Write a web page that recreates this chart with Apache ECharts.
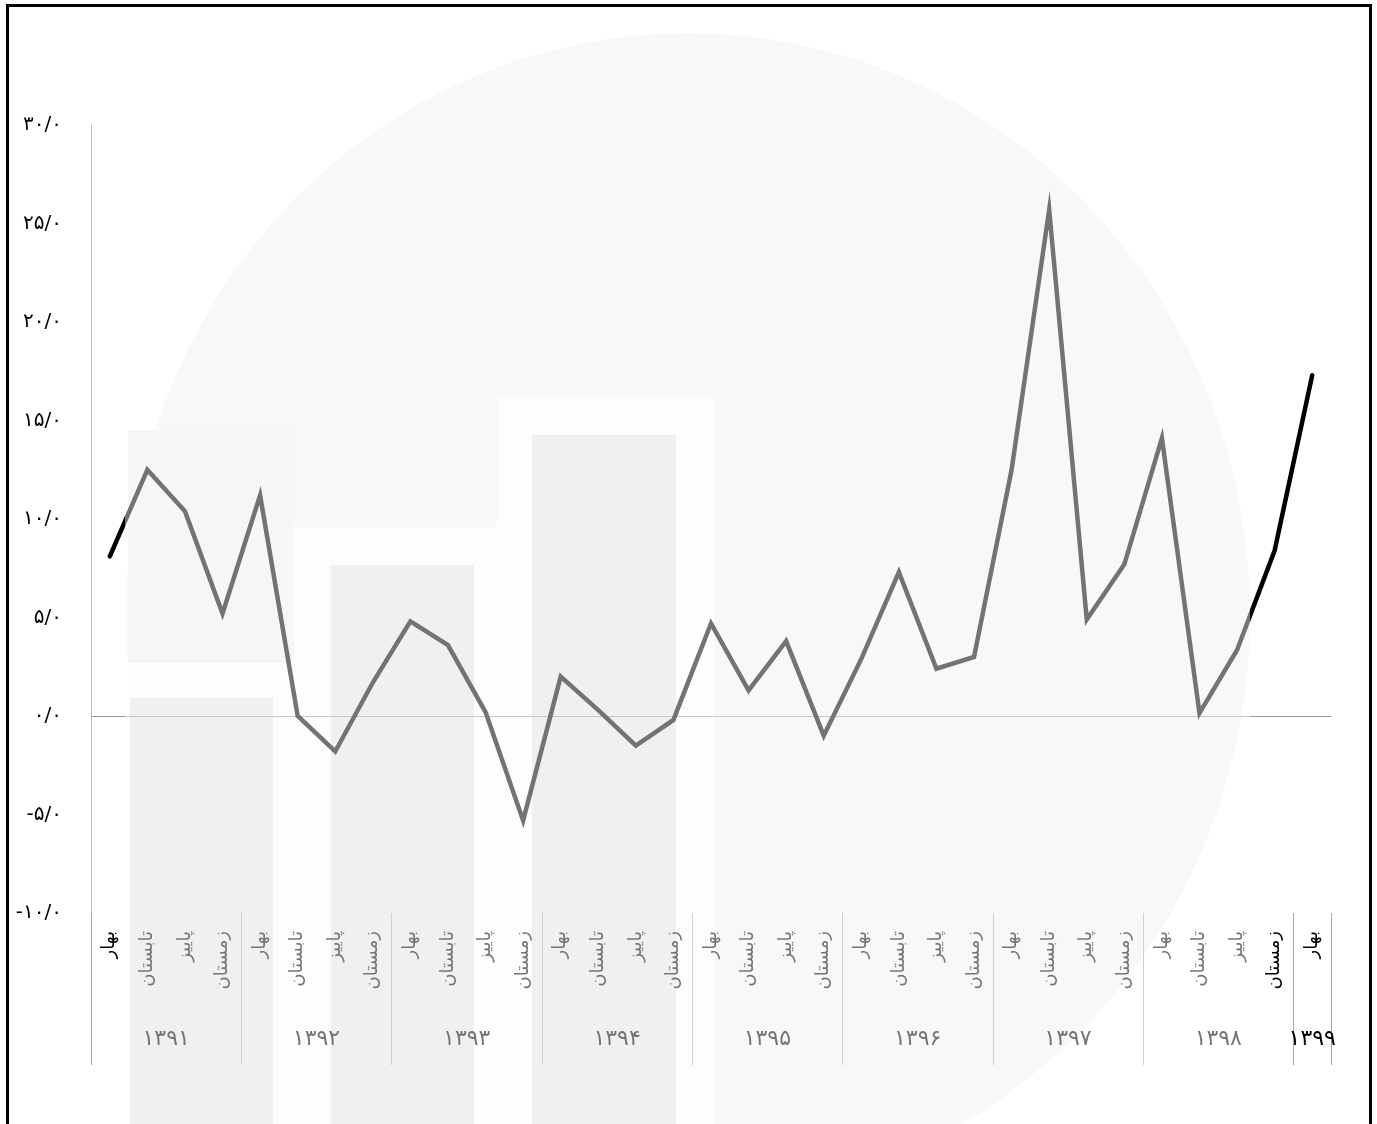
<!DOCTYPE html>
<html>
<head>
<meta charset="utf-8">
<script src="https://cdn.jsdelivr.net/npm/echarts@6/dist/echarts.min.js"></script>
<style>
  html, body { margin: 0; padding: 0; background: #fff; }
  #chart { width: 1377px; height: 1124px; }
</style>
</head>
<body>
<div id="chart"></div>
<script>
// ---- data ----
const years = ['۱۳۹۱', '۱۳۹۲', '۱۳۹۳', '۱۳۹۴', '۱۳۹۵', '۱۳۹۶', '۱۳۹۷', '۱۳۹۸', '۱۳۹۹'];
const seasons = ['بهار', 'تابستان', 'پاییز', 'زمستان'];
const quartersPerYear = [4, 4, 4, 4, 4, 4, 4, 4, 1];
const values = [
  8.1, 12.5, 10.4, 5.2,
  11.2, 0.0, -1.8, 1.7,
  4.8, 3.6, 0.2, -5.3,
  2.0, 0.3, -1.5, -0.2,
  4.7, 1.3, 3.8, -1.0,
  2.9, 7.3, 2.4, 3.0,
  12.5, 25.7, 4.9, 7.7,
  14.1, 0.15, 3.35, 8.4,
  17.3
];
const yTickValues = [-10, -5, 0, 5, 10, 15, 20, 25, 30];
const yTickLabels = ['-۱۰/۰', '-۵/۰', '۰/۰', '۵/۰', '۱۰/۰', '۱۵/۰', '۲۰/۰', '۲۵/۰', '۳۰/۰'];

// ---- derived axes ----
const categories = [];
years.forEach((y, i) => {
  for (let q = 0; q < quartersPerYear[i]; q++) categories.push(seasons[q]);
});
const nQ = categories.length;
const slotCount = nQ * 2 + 1;
const yearSlots = [];
for (let i = 0; i < slotCount; i++) yearSlots.push(String(i));
const yearLabelAt = {};
const boundaryAt = { 0: true };
let startQ = 0;
years.forEach((y, i) => {
  const n = quartersPerYear[i];
  yearLabelAt[Math.round((startQ + n / 2) * 2)] = y;
  startQ += n;
  boundaryAt[startQ * 2] = true;
});

const chart = echarts.init(document.getElementById('chart'), null, { renderer: 'canvas' });
const FONT = "'DejaVu Sans', sans-serif";

const option = {
  backgroundColor: '#ffffff',
  animation: false,
  grid: { left: 91, right: 46, top: 125, bottom: 211, containLabel: false },
  xAxis: [
    {
      type: 'category',
      data: categories,
      boundaryGap: true,
      position: 'bottom',
      axisLine: { show: false },
      axisTick: { show: false },
      splitLine: { show: false },
      axisLabel: {
        interval: 0,
        rotate: 90,
        margin: 18,
        color: '#000',
        fontSize: 18,
        fontFamily: FONT
      }
    },
    {
      type: 'category',
      data: yearSlots,
      boundaryGap: false,
      position: 'bottom',
      axisLine: { show: false },
      splitLine: { show: false },
      axisTick: {
        show: true,
        length: 152,
        interval: function (index) { return !!boundaryAt[index]; },
        lineStyle: { color: '#a8a8a8', width: 1 }
      },
      axisLabel: {
        show: true,
        interval: function (index) { return yearLabelAt[index] !== undefined; },
        formatter: function (value, index) { return yearLabelAt[index] || ''; },
        margin: 115,
        color: '#000',
        fontSize: 22,
        fontFamily: FONT
      }
    }
  ],
  yAxis: {
    type: 'value',
    min: -10,
    max: 30,
    interval: 5,
    axisLine: { show: true, lineStyle: { color: '#bdbdbd', width: 1 } },
    axisTick: { show: false },
    splitLine: { show: false },
    axisLabel: {
      margin: 29,
      color: '#000',
      fontSize: 20,
      fontFamily: FONT,
      padding: [0, 0, 10, 0],
      formatter: function (v) {
        const i = yTickValues.indexOf(v);
        return i >= 0 ? yTickLabels[i] : '';
      }
    }
  },
  series: [
    {
      type: 'line',
      data: values,
      xAxisIndex: 0,
      yAxisIndex: 0,
      showSymbol: false,
      symbol: 'none',
      lineStyle: { color: '#000', width: 4.5, cap: 'round', join: 'miter' },
      z: 5,
      markLine: {
        silent: true,
        symbol: ['none', 'none'],
        label: { show: false },
        lineStyle: { color: '#9a9a9a', width: 1, type: 'solid' },
        emphasis: { disabled: true },
        data: [{ yAxis: 0 }],
        z: 3
      }
    }
  ],
  graphic: [
    {
      type: 'circle', z: -10, silent: true,
      x: 688, y: 615, scaleY: 582 / 562,
      shape: { cx: 0, cy: 0, r: 562 },
      style: { fill: '#f3f3f3' }
    },
    { type: 'rect', z: -9, silent: true, shape: { x: 128, y: 430, width: 166, height: 233 }, style: { fill: '#efefef' } },
    { type: 'rect', z: -9, silent: true, shape: { x: 128, y: 663, width: 166, height: 470 }, style: { fill: '#fcfcfc' } },
    { type: 'rect', z: -9, silent: true, shape: { x: 294, y: 527, width: 203, height: 610 }, style: { fill: '#fcfcfc' } },
    { type: 'rect', z: -9, silent: true, shape: { x: 497, y: 397, width: 217, height: 740 }, style: { fill: '#fcfcfc' } },
    { type: 'rect', z: -8, silent: true, shape: { x: 130, y: 698, width: 143, height: 440 }, style: { fill: '#e3e3e3' } },
    { type: 'rect', z: -8, silent: true, shape: { x: 331, y: 565, width: 143, height: 570 }, style: { fill: '#e3e3e3' } },
    { type: 'rect', z: -8, silent: true, shape: { x: 532, y: 435, width: 144, height: 700 }, style: { fill: '#e3e3e3' } },
    {
      type: 'rect', z: 100, silent: true,
      shape: { x: 125, y: 30, width: 1125, height: 1100 },
      style: { fill: 'rgba(255,255,255,0.45)' }
    },
    {
      type: 'rect', z: 110, silent: true,
      shape: { x: 7.5, y: 5.5, width: 1363, height: 1200 },
      style: { fill: 'none', stroke: '#000', lineWidth: 3 }
    }
  ]
};

chart.setOption(option);
</script>
</body>
</html>
